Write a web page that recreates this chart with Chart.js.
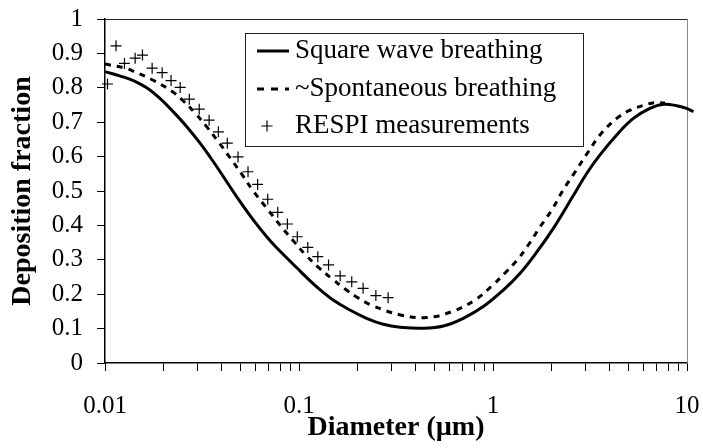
<!DOCTYPE html>
<html>
<head>
<meta charset="utf-8">
<script src="https://cdn.jsdelivr.net/npm/chart.js@4"></script>
<style>
  html, body { margin: 0; padding: 0; background: #fff; }
  #wrap { width: 703px; height: 448px; position: relative; }
</style>
</head>
<body>
<div id="wrap"><canvas id="c"></canvas></div>
<script>
// ---------- data ----------
const seriesLabels = ['Square wave breathing', '~Spontaneous breathing', 'RESPI measurements'];
const xTitle = 'Diameter (\u00b5m)';
const yTitle = 'Deposition fraction';

const squareX = [0.01, 0.012, 0.014, 0.0164, 0.0192, 0.0225, 0.0264, 0.0309, 0.0362, 0.0424, 0.0497, 0.0581, 0.0682, 0.0752, 0.101, 0.123, 0.150, 0.183, 0.223, 0.272, 0.332, 0.438, 0.555, 0.703, 0.891, 1.13, 1.38, 1.68, 2.05, 2.59, 3.04, 3.56, 4.34, 5.29, 6.44, 7.55, 8.85, 9.95, 10.8, 12.0];
const squareY = [0.847, 0.834, 0.821, 0.800, 0.769, 0.730, 0.687, 0.639, 0.585, 0.527, 0.469, 0.416, 0.367, 0.340, 0.268, 0.222, 0.183, 0.154, 0.130, 0.1125, 0.104, 0.101, 0.1076, 0.130, 0.164, 0.212, 0.261, 0.322, 0.392, 0.486, 0.551, 0.605, 0.663, 0.711, 0.740, 0.752, 0.748, 0.740, 0.731, 0.722];

const spontX = [0.01, 0.0127, 0.0139, 0.0177, 0.0221, 0.0249, 0.0291, 0.0334, 0.0384, 0.0441, 0.0507, 0.0581, 0.0682, 0.0798, 0.0935, 0.107, 0.126, 0.148, 0.173, 0.198, 0.241, 0.338, 0.455, 0.612, 0.807, 1.00, 1.15, 1.33, 1.52, 1.75, 2.01, 2.30, 2.59, 3.10, 3.56, 4.34, 5.09, 6.31, 6.84, 7.70];
const spontY = [0.869, 0.857, 0.849, 0.822, 0.790, 0.766, 0.727, 0.687, 0.643, 0.597, 0.549, 0.500, 0.450, 0.401, 0.355, 0.317, 0.278, 0.245, 0.215, 0.192, 0.166, 0.139, 0.132, 0.149, 0.183, 0.227, 0.261, 0.299, 0.343, 0.396, 0.445, 0.503, 0.547, 0.614, 0.663, 0.711, 0.735, 0.753, 0.757, 0.756];

const respiX = [0.0103, 0.0114, 0.0126, 0.0143, 0.0156, 0.0175, 0.0197, 0.0219, 0.0244, 0.0272, 0.0306, 0.0344, 0.0384, 0.0427, 0.0485, 0.0546, 0.0612, 0.0690, 0.0777, 0.0871, 0.0980, 0.111, 0.125, 0.142, 0.163, 0.187, 0.214, 0.249, 0.288];
const respiY = [0.811, 0.922, 0.871, 0.886, 0.895, 0.857, 0.844, 0.821, 0.801, 0.767, 0.738, 0.706, 0.672, 0.639, 0.599, 0.556, 0.519, 0.476, 0.438, 0.404, 0.367, 0.336, 0.309, 0.285, 0.253, 0.236, 0.217, 0.196, 0.190];

const xTickLabels = ['0.01', '0.1', '1', '10'];
const xMinorMultipliers = [2, 3, 4, 5, 6, 7, 8, 9];
const yTickLabels = ['0', '0.1', '0.2', '0.3', '0.4', '0.5', '0.6', '0.7', '0.8', '0.9', '1'];

// ---------- derived structures ----------
const FONT = '"Liberation Serif", "Times New Roman", serif';
const toPts = (xs, ys) => xs.map((x, i) => ({ x: x, y: ys[i] }));
const xDecades = xTickLabels.map(Number);
const xTickValues = [];
xDecades.forEach((d, i) => {
  xTickValues.push(d);
  if (i < xDecades.length - 1) xMinorMultipliers.forEach(m => xTickValues.push(+(d * m).toPrecision(3)));
});
const yTickValues = yTickLabels.map(Number);

function xLabel(v) {
  for (let i = 0; i < xDecades.length; i++) {
    if (Math.abs(v - xDecades[i]) < xDecades[i] * 1e-6) return xTickLabels[i];
  }
  return '';
}
function yLabel(v) {
  for (let i = 0; i < yTickValues.length; i++) {
    if (Math.abs(v - yTickValues[i]) < 1e-6) return yTickLabels[i];
  }
  return '';
}

// frame (top and right edges of the plot box)
const framePlugin = {
  id: 'frame',
  beforeDatasetsDraw(chart) {
    const { ctx, chartArea: a } = chart;
    ctx.save();
    ctx.lineWidth = 1;
    ctx.strokeStyle = '#222';
    ctx.beginPath();
    ctx.moveTo(a.left, a.top + 0.5);
    ctx.lineTo(a.right, a.top + 0.5);
    ctx.stroke();
    ctx.strokeStyle = '#888';
    ctx.beginPath();
    ctx.moveTo(a.right + 0.5, a.top);
    ctx.lineTo(a.right + 0.5, a.bottom);
    ctx.stroke();
    ctx.restore();
  }
};

// boxed legend inside the plot area
const boxLegendPlugin = {
  id: 'boxLegend',
  afterDraw(chart) {
    const { ctx, chartArea: a } = chart;
    const left = a.left + 140, top = a.top + 14, w = 338, h = 113;
    ctx.save();
    ctx.fillStyle = '#fff';
    ctx.fillRect(left, top, w, h);
    ctx.strokeStyle = '#222';
    ctx.lineWidth = 1;
    ctx.strokeRect(left + 0.5, top + 0.5, w, h);
    const rows = [top + 18, top + 56, top + 93];
    chart.data.datasets.forEach((ds, i) => {
      const y = rows[i];
      ctx.strokeStyle = '#000';
      if (ds.showLine) {
        ctx.lineWidth = ds.borderWidth;
        ctx.setLineDash(ds.borderDash ? [7, 7] : []);
        ctx.beginPath();
        ctx.moveTo(left + 12, y);
        ctx.lineTo(left + 44, y);
        ctx.stroke();
        ctx.setLineDash([]);
      } else {
        ctx.lineWidth = 1.2;
        const cx = left + 22, r = 5.5;
        ctx.beginPath();
        ctx.moveTo(cx - r, y); ctx.lineTo(cx + r, y);
        ctx.moveTo(cx, y - r); ctx.lineTo(cx, y + r);
        ctx.stroke();
      }
      ctx.fillStyle = '#000';
      ctx.font = '27px ' + FONT;
      ctx.textBaseline = 'middle';
      ctx.textAlign = 'left';
      ctx.fillText(ds.label, left + 50, y);
    });
    ctx.restore();
  }
};

new Chart(document.getElementById('c'), {
  type: 'scatter',
  data: {
    datasets: [
      { label: seriesLabels[0], data: toPts(squareX, squareY), showLine: true, borderColor: '#000', backgroundColor: '#000',
        borderWidth: 3, pointRadius: 0, tension: 0.4, clip: false },
      { label: seriesLabels[1], data: toPts(spontX, spontY), showLine: true, borderColor: '#000', backgroundColor: '#000',
        borderWidth: 3, borderDash: [6, 6], pointRadius: 0, tension: 0.4, clip: false },
      { label: seriesLabels[2], data: toPts(respiX, respiY), showLine: false, pointStyle: 'cross', pointRadius: 5.5,
        borderColor: '#000', backgroundColor: '#000', borderWidth: 1.2, clip: false }
    ]
  },
  options: {
    responsive: true,
    maintainAspectRatio: false,
    animation: false,
    layout: { padding: { top: 19, right: 16, left: 0, bottom: 0 } },
    plugins: { legend: { display: false }, tooltip: { enabled: false } },
    scales: {
      x: {
        type: 'logarithmic', position: 'bottom', min: 0.01, max: 10,
        afterFit(s) { s.height = 85; s.paddingLeft = 0; s.paddingRight = 0; },
        afterBuildTicks(s) { s.ticks = xTickValues.map(v => ({ value: v })); },
        ticks: { autoSkip: false, maxRotation: 0, minRotation: 0, padding: 20, color: '#000',
                 font: { family: FONT, size: 25 }, callback: (v) => xLabel(v) },
        grid: { drawOnChartArea: false, drawTicks: true, tickLength: 8, color: '#000', lineWidth: 1 },
        border: { color: '#000', width: 1.5 },
        title: { display: true, text: xTitle, color: '#000', font: { family: FONT, size: 28, weight: 'bold' },
                 padding: { top: 0, bottom: 3 } }
      },
      y: {
        type: 'linear', position: 'left', min: 0, max: 1,
        afterFit(s) { s.width = 105; s.paddingTop = 0; s.paddingBottom = 0; },
        afterBuildTicks(s) { s.ticks = yTickValues.map(v => ({ value: v })); },
        ticks: { autoSkip: false, padding: 14, color: '#000', font: { family: FONT, size: 25 }, callback: (v) => yLabel(v) },
        grid: { drawOnChartArea: false, drawTicks: true, tickLength: 8, color: '#000', lineWidth: 1 },
        border: { color: '#000', width: 1.5 },
        title: { display: true, text: yTitle, color: '#000', font: { family: FONT, size: 28, weight: 'bold' },
                 padding: { top: 6, bottom: 0 } }
      }
    }
  },
  plugins: [framePlugin, boxLegendPlugin]
});
</script>
</body>
</html>
